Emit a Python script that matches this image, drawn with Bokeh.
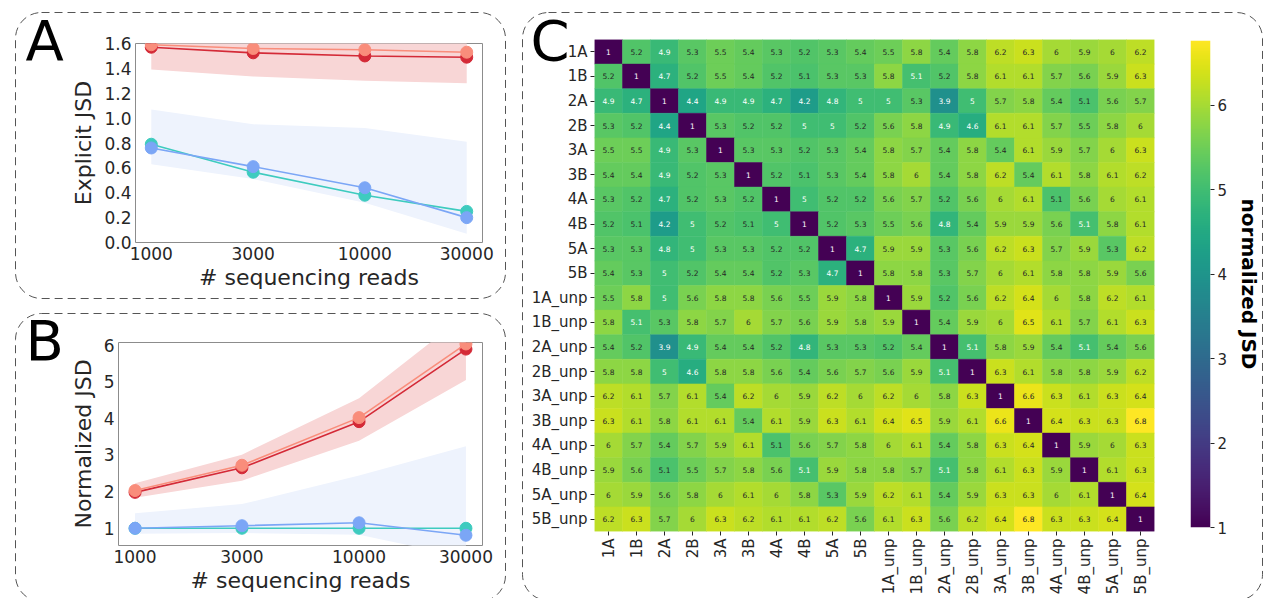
import math
import numpy as np
from bokeh.plotting import figure
from bokeh.layouts import row, column
from bokeh.models import (Range1d, FactorRange, FixedTicker, PrintfTickFormatter, Title,
                          LinearColorMapper, ColumnDataSource)
from bokeh.palettes import Viridis256
from bokeh.core.properties import value
from bokeh.embed import file_html
from bokeh.resources import INLINE

FONT = "DejaVu Sans"
TXT = "#262626"

# ---------------- data: panels A and B ----------------
reads = [1000, 3000, 10000, 30000]

expl_red_dark = [1.57, 1.525, 1.50, 1.49]
expl_red_light = [1.59, 1.56, 1.55, 1.53]
expl_red_lo = [1.39, 1.335, 1.30, 1.28]
expl_red_hi = [1.76, 1.72, 1.70, 1.70]
expl_teal = [0.79, 0.565, 0.38, 0.25]
expl_blue = [0.76, 0.61, 0.44, 0.20]
expl_blue_lo = [0.63, 0.51, 0.32, 0.07]
expl_blue_hi = [1.07, 0.95, 0.92, 0.81]

norm_red_dark = [1.98, 2.65, 3.91, 5.89]
norm_red_light = [2.03, 2.72, 4.02, 6.03]
norm_red_lo = [1.83, 2.30, 3.39, 5.05]
norm_red_hi = [2.23, 3.01, 4.55, 6.83]
norm_teal = [1.0, 1.0, 1.0, 1.0]
norm_blue = [1.0, 1.07, 1.15, 0.81]
norm_blue_lo = [0.85, 0.87, 0.82, 0.21]
norm_blue_hi = [1.41, 1.66, 2.44, 3.24]

expl_yticks = [0.0, 0.2, 0.4, 0.6, 0.8, 1.0, 1.2, 1.4, 1.6]
norm_yticks = [1, 2, 3, 4, 5, 6]

# ---------------- data: panel C ----------------
samples = ["1A", "1B", "2A", "2B", "3A", "3B", "4A", "4B", "5A", "5B",
           "1A_unp", "1B_unp", "2A_unp", "2B_unp", "3A_unp", "3B_unp",
           "4A_unp", "4B_unp", "5A_unp", "5B_unp"]

jsd_matrix = [
    [1, 5.2, 4.9, 5.3, 5.5, 5.4, 5.3, 5.2, 5.3, 5.4, 5.5, 5.8, 5.4, 5.8, 6.2, 6.3, 6, 5.9, 6, 6.2],
    [5.2, 1, 4.7, 5.2, 5.5, 5.4, 5.2, 5.13, 5.3, 5.3, 5.8, 5.07, 5.2, 5.8, 6.1, 6.1, 5.7, 5.6, 5.9, 6.3],
    [4.9, 4.7, 1, 4.4, 4.9, 4.9, 4.7, 4.2, 4.8, 5, 5, 5.3, 3.9, 5, 5.7, 5.8, 5.4, 5.13, 5.6, 5.7],
    [5.3, 5.2, 4.4, 1, 5.3, 5.2, 5.2, 5, 5, 5.2, 5.6, 5.8, 4.9, 4.6, 6.1, 6.1, 5.7, 5.5, 5.8, 6],
    [5.5, 5.5, 4.9, 5.3, 1, 5.3, 5.3, 5.2, 5.3, 5.4, 5.8, 5.7, 5.4, 5.8, 5.4, 6.1, 5.9, 5.7, 6, 6.3],
    [5.4, 5.4, 4.9, 5.2, 5.3, 1, 5.2, 5.13, 5.3, 5.4, 5.8, 6, 5.4, 5.8, 6.2, 5.4, 6.1, 5.8, 6.1, 6.2],
    [5.3, 5.2, 4.7, 5.2, 5.3, 5.2, 1, 5, 5.2, 5.2, 5.6, 5.7, 5.2, 5.6, 6, 6.1, 5.13, 5.6, 6, 6.1],
    [5.2, 5.13, 4.2, 5, 5.2, 5.13, 5, 1, 5.2, 5.3, 5.5, 5.6, 4.8, 5.4, 5.9, 5.9, 5.6, 5.07, 5.8, 6.1],
    [5.3, 5.3, 4.8, 5, 5.3, 5.3, 5.2, 5.2, 1, 4.7, 5.9, 5.9, 5.3, 5.6, 6.2, 6.3, 5.7, 5.9, 5.3, 6.2],
    [5.4, 5.3, 5, 5.2, 5.4, 5.4, 5.2, 5.3, 4.7, 1, 5.8, 5.8, 5.3, 5.7, 6, 6.1, 5.8, 5.8, 5.9, 5.6],
    [5.5, 5.8, 5, 5.6, 5.8, 5.8, 5.6, 5.5, 5.9, 5.8, 1, 5.9, 5.2, 5.6, 6.2, 6.4, 6, 5.8, 6.2, 6.1],
    [5.8, 5.07, 5.3, 5.8, 5.7, 6, 5.7, 5.6, 5.9, 5.8, 5.9, 1, 5.4, 5.9, 6, 6.5, 6.1, 5.7, 6.1, 6.3],
    [5.4, 5.2, 3.9, 4.9, 5.4, 5.4, 5.2, 4.8, 5.3, 5.3, 5.2, 5.4, 1, 5.07, 5.8, 5.9, 5.4, 5.07, 5.4, 5.6],
    [5.8, 5.8, 5, 4.6, 5.8, 5.8, 5.6, 5.4, 5.6, 5.7, 5.6, 5.9, 5.07, 1, 6.3, 6.1, 5.8, 5.8, 5.9, 6.2],
    [6.2, 6.1, 5.7, 6.1, 5.4, 6.2, 6, 5.9, 6.2, 6, 6.2, 6, 5.8, 6.3, 1, 6.6, 6.3, 6.1, 6.3, 6.4],
    [6.3, 6.1, 5.8, 6.1, 6.1, 5.4, 6.1, 5.9, 6.3, 6.1, 6.4, 6.5, 5.9, 6.1, 6.6, 1, 6.4, 6.3, 6.3, 6.8],
    [6, 5.7, 5.4, 5.7, 5.9, 6.1, 5.13, 5.6, 5.7, 5.8, 6, 6.1, 5.4, 5.8, 6.3, 6.4, 1, 5.9, 6, 6.3],
    [5.9, 5.6, 5.13, 5.5, 5.7, 5.8, 5.6, 5.07, 5.9, 5.8, 5.8, 5.7, 5.07, 5.8, 6.1, 6.3, 5.9, 1, 6.1, 6.3],
    [6, 5.9, 5.6, 5.8, 6, 6.1, 6, 5.8, 5.3, 5.9, 6.2, 6.1, 5.4, 5.9, 6.3, 6.3, 6, 6.1, 1, 6.4],
    [6.2, 6.3, 5.7, 6, 6.3, 6.2, 6.1, 6.1, 6.2, 5.6, 6.1, 6.3, 5.6, 6.2, 6.4, 6.8, 6.3, 6.3, 6.4, 1],
]
cbar_ticks = [1, 2, 3, 4, 5, 6]
cbar_low, cbar_high = 1.0, 6.77

# ---------------- styling helpers ----------------
C_DARK = "#d42a37"
C_LIGHT = "#f98d7b"
C_TEAL = "#3ecbbf"
C_BLUE = "#7ba6f6"
BAND_RED = "#f8d6d6"
BAND_BLUE = "#eef3fd"


def dashed_box(w, h, dx=0, dy=0):
    svg = ("<svg xmlns='http://www.w3.org/2000/svg' width='%d' height='%d'>"
           "<rect x='0.5' y='0.5' width='%d' height='%d' rx='26' ry='26' fill='none' "
           "stroke='%%23555555' stroke-width='1' stroke-dasharray='8 5'/></svg>") % (w + 2, h + 2, w, h)
    return {"background-image": 'url("data:image/svg+xml;utf8,%s")' % svg,
            "background-repeat": "no-repeat",
            "background-position": "%dpx %dpx" % (dx, dy)}


def panel_letter(p, letter, offset, standoff):
    p.add_layout(Title(text=letter, align="left", offset=offset, standoff=standoff,
                       text_font=FONT, text_font_size="56px", text_font_style="normal",
                       text_color="black"), "above")


def style_axes(p, tick_size="17px"):
    for ax in (p.xaxis[0], p.yaxis[0]):
        ax.axis_line_color = None
        ax.major_tick_line_color = None
        ax.minor_tick_line_color = None
        ax.major_tick_out = 0
        ax.major_tick_in = 0
        ax.major_label_text_font = FONT
        ax.major_label_text_font_size = tick_size
        ax.major_label_text_color = TXT
        ax.axis_label_text_font = FONT
        ax.axis_label_text_font_size = "22px"
        ax.axis_label_text_font_style = "normal"
        ax.axis_label_text_color = TXT
    p.xaxis.major_label_standoff = 4
    p.xaxis.axis_label_standoff = 2
    p.yaxis.major_label_standoff = 4
    p.yaxis.axis_label_standoff = 5
    p.grid.visible = False
    p.outline_line_color = "#8c8c8c"
    p.outline_line_width = 1


def line_panel(w, h, borders, box, y_lo, y_hi, yticks, yfmt, ylabel,
               red_dark, red_light, red_lo, red_hi, teal, blue, blue_lo, blue_hi,
               letter, letter_offset, letter_standoff):
    bl, br, bt, bb = borders
    bw, bh, dx, dy = box
    p = figure(width=w, height=h, x_axis_type="log",
               x_range=Range1d(843.5, 35566), y_range=Range1d(y_lo, y_hi),
               output_backend="svg", toolbar_location=None, frame_align=False,
               min_border_left=bl, min_border_right=br, min_border_top=bt, min_border_bottom=bb,
               styles=dashed_box(bw, bh, dx, dy))
    p.border_fill_color = None
    p.background_fill_color = "white"
    p.varea(x=reads, y1=red_lo, y2=red_hi, fill_color=BAND_RED, fill_alpha=1)
    p.varea(x=reads, y1=blue_lo, y2=blue_hi, fill_color=BAND_BLUE, fill_alpha=1)
    for ys, c in ((red_dark, C_DARK), (red_light, C_LIGHT), (teal, C_TEAL), (blue, C_BLUE)):
        p.line(reads, ys, line_color=c, line_width=1.6)
        p.scatter(reads, ys, size=12, fill_color=c, line_color=c)
    p.xaxis.ticker = FixedTicker(ticks=reads)
    p.xaxis.formatter = PrintfTickFormatter(format="%d")
    p.yaxis.ticker = FixedTicker(ticks=yticks)
    p.yaxis.formatter = PrintfTickFormatter(format=yfmt)
    p.xaxis.axis_label = "# sequencing reads"
    p.yaxis.axis_label = ylabel
    style_axes(p)
    panel_letter(p, letter, letter_offset, letter_standoff)
    return p


# Panel A: host at page (15, 0); dashed box drawn from y = 12
pA = line_panel(492, 299, (120, 25, 43, 57), (490, 286, 0, 12), 0.0, 1.6, expl_yticks, "%.1f",
                "Explicit JSD", expl_red_dark, expl_red_light, expl_red_lo, expl_red_hi,
                expl_teal, expl_blue, expl_blue_lo, expl_blue_hi, "A", -110, -59)

# Panel B: host at page (15, 299); dashed box drawn from y = 313
pB = line_panel(492, 299, (103, 25, 43, 53), (490, 288, 0, 14), 0.53, 6.07, norm_yticks, "%d",
                "Normalized JSD", norm_red_dark, norm_red_light, norm_red_lo, norm_red_hi,
                norm_teal, norm_blue, norm_blue_lo, norm_blue_hi, "B", -93, -61)

# ---------------- panel C: heatmap ----------------
xs, ys, vs = [], [], []
for i, rname in enumerate(samples):
    for j, cname in enumerate(samples):
        xs.append(cname)
        ys.append(rname)
        vs.append(jsd_matrix[i][j])
labels = [format(v, ".2g") for v in vs]
tcolors = ["white" if v < 5.1 else TXT for v in vs]
src = ColumnDataSource(dict(x=xs, y=ys, v=vs, label=labels, tc=tcolors))

mapper = LinearColorMapper(palette=Viridis256, low=cbar_low, high=cbar_high)

pC = figure(width=653, height=598, x_range=FactorRange(factors=samples),
            y_range=FactorRange(factors=samples[::-1]),
            output_backend="svg", toolbar_location=None, frame_align=False,
            min_border_left=72, min_border_right=21, min_border_top=39, min_border_bottom=67)
pC.border_fill_color = None
pC.background_fill_color = None
pC.outline_line_color = None
pC.grid.visible = False
pC.rect(x="x", y="y", width=1, height=1, source=src,
        fill_color={"field": "v", "transform": mapper},
        line_color={"field": "v", "transform": mapper}, line_width=0.5)
pC.text(x="x", y="y", text="label", text_color="tc", source=src,
        text_align="center", text_baseline="middle",
        text_font=value(FONT), text_font_size="7.5px")
for ax in (pC.xaxis[0], pC.yaxis[0]):
    ax.axis_line_color = None
    ax.major_tick_line_color = TXT
    ax.major_tick_out = 4
    ax.major_tick_in = 0
    ax.major_label_standoff = 3
    ax.major_label_text_font = FONT
    ax.major_label_text_font_size = "15px"
    ax.major_label_text_color = TXT
pC.xaxis.major_label_orientation = math.pi / 2
panel_letter(pC, "C", -64, -67)

# ---------------- colour bar as its own small figure ----------------
pBar = figure(width=89, height=598, x_range=Range1d(0, 1), y_range=Range1d(cbar_low, cbar_high),
              y_axis_location="right", output_backend="svg", toolbar_location=None,
              frame_align=False,
              min_border_left=15, min_border_right=50, min_border_top=40, min_border_bottom=71)
pBar.border_fill_color = None
pBar.background_fill_color = None
pBar.outline_line_color = None
pBar.grid.visible = False
gradient = np.linspace(cbar_low, cbar_high, 256).reshape(256, 1)
pBar.image(image=[gradient], x=0, y=cbar_low, dw=1, dh=cbar_high - cbar_low, color_mapper=mapper)
pBar.xaxis.visible = False
yax = pBar.yaxis[0]
yax.ticker = FixedTicker(ticks=cbar_ticks)
yax.formatter = PrintfTickFormatter(format="%d")
yax.axis_line_color = None
yax.major_tick_line_color = TXT
yax.major_tick_out = 4
yax.major_tick_in = 0
yax.minor_tick_line_color = None
yax.major_label_standoff = 3
yax.major_label_text_font = FONT
yax.major_label_text_font_size = "15px"
yax.major_label_text_color = TXT
yax.axis_label = "normalized JSD"
yax.axis_label_text_font = FONT
yax.axis_label_text_font_size = "20px"
yax.axis_label_text_font_style = "bold"
yax.axis_label_text_color = "black"
yax.axis_label_standoff = 7

panelC = row(pC, pBar, spacing=0, styles=dashed_box(740, 588, 0, 12))

layout = row(column(pA, pB, spacing=0), panelC, spacing=15, margin=(0, 0, 0, 15))

open("out.html", "w").write(file_html(layout, INLINE))
